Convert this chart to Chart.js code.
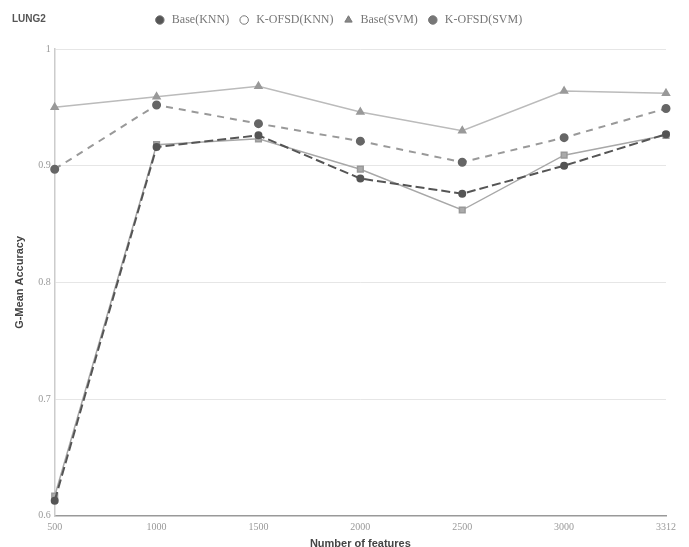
<!DOCTYPE html>
<html>
<head>
<meta charset="utf-8">
<title>LUNG2</title>
<script src="https://cdn.jsdelivr.net/npm/chart.js@4.4.1/dist/chart.umd.min.js"></script>
<style>
  html, body { margin: 0; padding: 0; background: #fff; }
  #wrap { width: 689px; height: 547px; position: relative; }
</style>
</head>
<body>
<div id="wrap"><canvas id="lungChart"></canvas></div>
<script>
// feature counts along the x axis
const featureCounts = ['500', '1000', '1500', '2000', '2500', '3000', '3312'];

// G-mean accuracy per method
const baseKnn  = [0.613, 0.916, 0.926, 0.889, 0.876, 0.900, 0.927];
const kofsdKnn = [0.617, 0.918, 0.923, 0.897, 0.862, 0.909, 0.926];
const baseSvm  = [0.950, 0.959, 0.968, 0.946, 0.930, 0.964, 0.962];
const kofsdSvm = [0.897, 0.952, 0.936, 0.921, 0.903, 0.924, 0.949];

const seriesNames = ['Base(KNN)', 'K-OFSD(KNN)', 'Base(SVM)', 'K-OFSD(SVM)'];

// draws the dataset name in the top-left corner, on the legend row
const cornerTitle = {
  id: 'cornerTitle',
  afterDraw(chart) {
    const ctx = chart.ctx;
    ctx.save();
    ctx.font = 'bold 10px "Liberation Sans"';
    ctx.fillStyle = '#555';
    ctx.textBaseline = 'middle';
    ctx.fillText('LUNG2', 12, 19);
    ctx.restore();
  }
};

// extra room between the legend and the plot
const legendGap = {
  id: 'legendGap',
  beforeInit(chart) {
    const fit = chart.legend.fit;
    chart.legend.fit = function () {
      fit.bind(chart.legend)();
      this.height += 13;
    };
  }
};

const chartCanvas = document.querySelector('#lungChart');

new Chart(chartCanvas, {
  type: 'line',
  data: {
    labels: featureCounts,
    datasets: [
      {
        label: seriesNames[0],
        data: baseKnn,
        borderColor: '#555',
        borderWidth: 2,
        borderDash: [9, 4],
        pointStyle: 'circle',
        pointRadius: 3,
        pointBackgroundColor: '#555',
        pointBorderColor: '#555'
      },
      {
        label: seriesNames[1],
        data: kofsdKnn,
        borderColor: '#a8a8a8',
        borderWidth: 1.5,
        pointStyle: 'rect',
        pointRadius: 4,
        pointBackgroundColor: '#aaa',
        pointBorderColor: '#999'
      },
      {
        label: seriesNames[2],
        data: baseSvm,
        borderColor: '#bbb',
        borderWidth: 1.5,
        pointStyle: 'triangle',
        pointRadius: 4,
        pointBackgroundColor: '#999',
        pointBorderColor: '#999'
      },
      {
        label: seriesNames[3],
        data: kofsdSvm,
        borderColor: '#999',
        borderWidth: 2,
        borderDash: [7, 6],
        pointStyle: 'circle',
        pointRadius: 3.5,
        pointBackgroundColor: '#666',
        pointBorderColor: '#666'
      }
    ]
  },
  options: {
    responsive: true,
    maintainAspectRatio: false,
    animation: false,
    layout: { padding: { left: 13, right: 23, top: 2, bottom: -4 } },
    plugins: {
      title: { display: false },
      tooltip: { enabled: false },
      legend: {
        position: 'top',
        align: 'center',
        labels: {
          usePointStyle: true,
          boxWidth: 6,
          boxHeight: 6,
          padding: 12,
          color: '#777',
          font: { family: '"Liberation Serif"', size: 12 },
          generateLabels(chart) {
            const items = Chart.defaults.plugins.legend.labels.generateLabels(chart);
            const legendStyles = ['circle', 'circle', 'triangle', 'circle'];
            const legendFills = ['#555', '#fff', '#888', '#777'];
            items.forEach((item, i) => {
              item.text = ' ' + item.text;
              item.pointStyle = legendStyles[i];
              item.fillStyle = legendFills[i];
              item.strokeStyle = '#777';
              item.lineWidth = 1;
              item.lineDash = [];
            });
            return items;
          }
        }
      }
    },
    scales: {
      x: {
        offset: false,
        grid: { display: false, drawTicks: true, tickLength: 3 },
        border: { color: '#999', width: 1.5 },
        ticks: {
          color: '#999',
          padding: 3,
          maxRotation: 0,
          font: { family: '"Liberation Serif"', size: 10 }
        },
        title: {
          display: true,
          text: 'Number of features',
          color: '#444',
          padding: { top: 1, bottom: 0 },
          font: { family: '"Liberation Sans"', size: 11, weight: 'bold' }
        }
      },
      y: {
        min: 0.6,
        max: 1,
        ticks: {
          stepSize: 0.1,
          color: '#999',
          padding: 4,
          font: { family: '"Liberation Serif"', size: 10 },
          callback: (value) => String(Number(value.toFixed(1)))
        },
        grid: { color: '#e6e6e6', drawTicks: false },
        border: { color: '#ccc', width: 1.5 },
        title: {
          display: true,
          text: 'G-Mean Accuracy',
          color: '#444',
          padding: { top: 0, bottom: 8 },
          font: { family: '"Liberation Sans"', size: 11, weight: 'bold' }
        }
      }
    }
  },
  plugins: [cornerTitle, legendGap]
});
</script>
</body>
</html>
